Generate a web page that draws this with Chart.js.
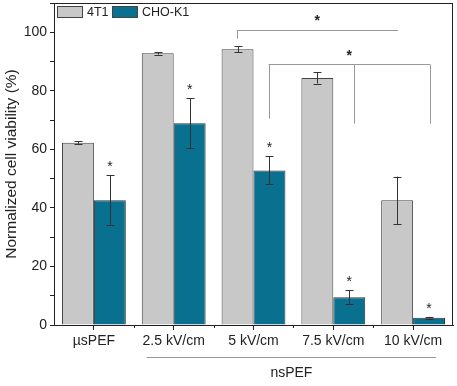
<!DOCTYPE html>
<html>
<head>
<meta charset="utf-8">
<script src="https://cdn.jsdelivr.net/npm/chart.js@4/dist/chart.umd.min.js"></script>
<style>
  html, body { margin: 0; padding: 0; background: #fff; }
  #wrap { width: 457px; height: 386px; position: relative; }
</style>
</head>
<body>
<div id="wrap"><canvas id="c"></canvas></div>
<script>
// ── Cell viability after PEF treatment ──────────────────────────────────────
const categories = ['µsPEF', '2.5 kV/cm', '5 kV/cm', '7.5 kV/cm', '10 kV/cm'];
const seriesNames = ['4T1', 'CHO-K1'];

const t4Values = [62.3, 92.8, 94.2, 84.4, 42.6];
const t4Errors = [0.4, 0.4, 1.0, 1.9, 8.1];
const choValues = [42.6, 68.9, 52.8, 9.5, 2.5];
const choErrors = [8.5, 8.6, 4.8, 2.3, 0.3];
const choStars = [true, true, true, true, true];

const yTicks = [0, 20, 40, 60, 80, 100];

// significance brackets: [x from, x to, y of bar, drops [x, yEnd]], star [x, y]
const brackets = [
  { y: 100.9, from: 1.79, to: 3.81, drops: [[1.79, 97.8]], star: [2.8, 105.3] },
  { y: 89.3, from: 2.19, to: 4.21, drops: [[2.19, 70.5], [3.26, 68.8], [4.21, 68.8]], star: [3.2, 93.4] },
];

const FONT = '"Liberation Sans", Arial, sans-serif';
const GREY = '#c8c8c8';
const TEAL = '#09708f';
const INK = '#222';

const overlay = {
  id: 'overlay',
  afterDatasetsDraw(chart) {
    const { ctx, chartArea: a, scales: { x, y } } = chart;
    ctx.save();

    // error bars + stars
    const errs = [t4Errors, choErrors];
    const vals = [t4Values, choValues];
    [0, 1].forEach(di => {
      const meta = chart.getDatasetMeta(di);
      meta.data.forEach((bar, i) => {
        const cx = Math.round(bar.x) + 0.5;
        const hi = y.getPixelForValue(vals[di][i] + errs[di][i]);
        const lo = y.getPixelForValue(vals[di][i] - errs[di][i]);
        ctx.strokeStyle = '#333';
        ctx.lineWidth = 1;
        ctx.beginPath();
        ctx.moveTo(cx, hi); ctx.lineTo(cx, lo);
        ctx.moveTo(cx - 4, Math.round(hi) + 0.5); ctx.lineTo(cx + 4, Math.round(hi) + 0.5);
        ctx.moveTo(cx - 4, Math.round(lo) + 0.5); ctx.lineTo(cx + 4, Math.round(lo) + 0.5);
        ctx.stroke();
        if (di === 1 && choStars[i]) {
          ctx.fillStyle = INK;
          ctx.font = '14px ' + FONT;
          ctx.textAlign = 'center';
          ctx.textBaseline = 'alphabetic';
          ctx.fillText('*', bar.x, hi - 12 + 8);
        }
      });
    });

    // brackets
    ctx.strokeStyle = '#999';
    ctx.lineWidth = 1;
    brackets.forEach(b => {
      const by = Math.round(y.getPixelForValue(b.y)) + 0.5;
      ctx.beginPath();
      ctx.moveTo(x.getPixelForValue(b.from), by);
      ctx.lineTo(x.getPixelForValue(b.to), by);
      b.drops.forEach(([dx, dy]) => {
        const px = Math.round(x.getPixelForValue(dx)) + 0.5;
        ctx.moveTo(px, by);
        ctx.lineTo(px, y.getPixelForValue(dy));
      });
      ctx.stroke();
      ctx.fillStyle = INK;
      ctx.font = 'bold 14px ' + FONT;
      ctx.textAlign = 'center';
      ctx.fillText('*', x.getPixelForValue(b.star[0]), y.getPixelForValue(b.star[1]) + 8);
    });

    // minor x ticks at category borders
    ctx.strokeStyle = INK;
    ctx.beginPath();
    for (let i = 0; i < categories.length - 1; i++) {
      const px = Math.round(x.getPixelForValue(i + 0.5)) + 0.5;
      ctx.moveTo(px, a.bottom); ctx.lineTo(px, a.bottom + 3);
    }
    ctx.stroke();

    // frame
    ctx.strokeStyle = INK;
    ctx.strokeRect(Math.round(a.left) + 0.5, Math.round(a.top) + 0.5,
                   Math.round(a.right - a.left) - 1, Math.round(a.bottom - a.top));

    // legend inside the plot
    const legend = [[GREY, seriesNames[0], 57], [TEAL, seriesNames[1], 112]];
    ctx.font = '12.5px ' + FONT;
    ctx.textAlign = 'left';
    ctx.textBaseline = 'middle';
    legend.forEach(([col, name, lx]) => {
      ctx.fillStyle = col;
      ctx.fillRect(lx, 6, 26, 12);
      ctx.strokeStyle = '#444';
      ctx.strokeRect(lx + 0.5, 6.5, 25, 11);
      ctx.fillStyle = INK;
      ctx.fillText(name, lx + 30, 12.5);
    });

    // nsPEF group label
    const gx0 = x.getPixelForValue(0.66), gx1 = x.getPixelForValue(4.29);
    ctx.strokeStyle = '#999';
    ctx.beginPath();
    ctx.moveTo(gx0, 357.5); ctx.lineTo(gx1, 357.5);
    ctx.stroke();
    ctx.fillStyle = INK;
    ctx.font = '14px ' + FONT;
    ctx.textAlign = 'center';
    ctx.fillText('nsPEF', (gx0 + gx1) / 2, 373);

    ctx.restore();
  }
};

new Chart(document.getElementById('c'), {
  type: 'bar',
  data: {
    labels: categories,
    datasets: [
      { label: seriesNames[0], data: t4Values, backgroundColor: GREY, borderColor: '#444', borderWidth: 1 },
      { label: seriesNames[1], data: choValues, backgroundColor: TEAL, borderColor: '#333', borderWidth: 1 },
    ],
  },
  options: {
    responsive: true, maintainAspectRatio: false, animation: false,
    categoryPercentage: 0.8, barPercentage: 1.0,
    layout: { padding: { top: 3, right: 4, left: 0, bottom: 0 } },
    plugins: { legend: { display: false }, tooltip: { enabled: false } },
    scales: {
      x: {
        offset: true,
        grid: { display: true, drawOnChartArea: false, offset: false, tickLength: 5, color: INK },
        border: { color: INK },
        ticks: { font: { family: FONT, size: 14 }, color: INK, padding: 3, maxRotation: 0 },
        afterFit: s => { s.height = 61; s.paddingLeft = 0; s.paddingRight = 0; },
      },
      y: {
        min: 0, max: 110,
        grid: { display: true, drawOnChartArea: false, tickLength: 4, color: INK },
        border: { color: INK },
        ticks: {
          stepSize: 10, font: { family: FONT, size: 14 }, color: INK, padding: 3,
          callback: v => (yTicks.includes(v) ? v : ''),
        },
        title: { display: true, text: 'Normalized cell viability (%)', font: { family: FONT, size: 15.5 }, color: INK, padding: { top: 2, bottom: 0 } },
        afterFit: s => { s.width = 54; s.paddingTop = 0; s.paddingBottom = 0; },
      },
    },
  },
  plugins: [overlay],
});
</script>
</body>
</html>
